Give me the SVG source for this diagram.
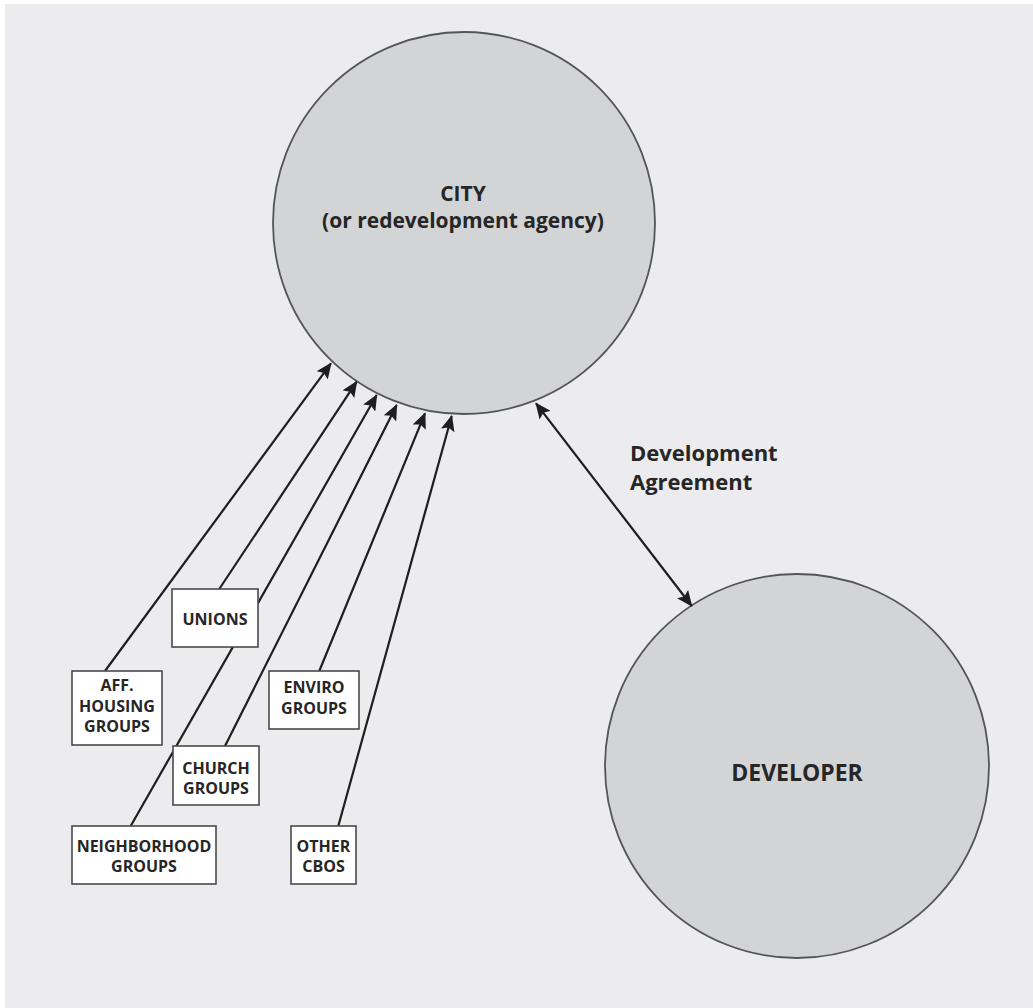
<svg xmlns="http://www.w3.org/2000/svg" width="1033" height="1008" viewBox="0 0 1033 1008">
<defs>
<marker id="ah" markerUnits="userSpaceOnUse" markerWidth="16" markerHeight="14" refX="15" refY="7" orient="auto-start-reverse" viewBox="0 0 16 14">
<path d="M0,0 L16,7 L0,14 L3,7 Z" fill="#1e1e1e"/>
</marker>
<style>
.circ{fill:#d3d4d6;stroke:#555;stroke-width:1.8}
.box{fill:#fff;stroke:#4a4a4a;stroke-width:1.6}
.lbl{font-family:"Open Sans","Noto Sans",sans-serif;font-weight:bold;fill:#262626;text-anchor:middle}
.s{font-size:16px}
.b{font-size:21px}
.con line{stroke:#1e1e1e;stroke-width:2.2;fill:none}
</style>
</defs>
<rect x="5" y="4" width="1028" height="1004" fill="#ececee"/>
<g id="city">
<circle class="circ" cx="464" cy="223" r="191"/>
<text class="lbl b" x="463" y="201">CITY</text>
<text class="lbl b" x="463" y="228">(or redevelopment agency)</text>
</g>
<g id="developer">
<circle class="circ" cx="797" cy="766" r="192"/>
<text class="lbl" style="font-size:23px" x="797" y="781">DEVELOPER</text>
</g>
<g class="con" id="connectors">
<line x1="105" y1="671" x2="331" y2="363.3" marker-end="url(#ah)"/>
<line x1="219.3" y1="589" x2="356.7" y2="381.7" marker-end="url(#ah)"/>
<line x1="130.7" y1="826" x2="376.7" y2="395" marker-end="url(#ah)"/>
<line x1="225" y1="746" x2="396.7" y2="405" marker-end="url(#ah)"/>
<line x1="319.3" y1="671" x2="425" y2="413.3" marker-end="url(#ah)"/>
<line x1="338.3" y1="826" x2="451.7" y2="416" marker-end="url(#ah)"/>
<line x1="536" y1="403.3" x2="691.7" y2="606" marker-start="url(#ah)" marker-end="url(#ah)"/>
</g>
<text class="lbl" style="text-anchor:start;font-size:22px" x="630" y="461">Development</text>
<text class="lbl" style="text-anchor:start;font-size:22px" x="630" y="489.5">Agreement</text>
<g id="unions">
<rect class="box" x="172" y="589" width="86" height="58"/>
<text class="lbl s" x="215" y="625">UNIONS</text>
</g>
<g id="aff-housing">
<rect class="box" x="72" y="671" width="90" height="74"/>
<text class="lbl s" x="117" y="691">AFF.</text>
<text class="lbl s" x="117" y="711.5">HOUSING</text>
<text class="lbl s" x="117" y="732">GROUPS</text>
</g>
<g id="enviro">
<rect class="box" x="269" y="671" width="90" height="58"/>
<text class="lbl s" x="314" y="693">ENVIRO</text>
<text class="lbl s" x="314" y="714">GROUPS</text>
</g>
<g id="church">
<rect class="box" x="173" y="746" width="86" height="59"/>
<text class="lbl s" x="216" y="774">CHURCH</text>
<text class="lbl s" x="216" y="794">GROUPS</text>
</g>
<g id="neighborhood">
<rect class="box" x="72" y="826" width="144" height="58"/>
<text class="lbl s" x="144" y="851.5">NEIGHBORHOOD</text>
<text class="lbl s" x="144" y="871.5">GROUPS</text>
</g>
<g id="other-cbos">
<rect class="box" x="291" y="826" width="65" height="58"/>
<text class="lbl s" x="323.5" y="851.5">OTHER</text>
<text class="lbl s" x="323.5" y="871.5">CBOS</text>
</g>
</svg>
